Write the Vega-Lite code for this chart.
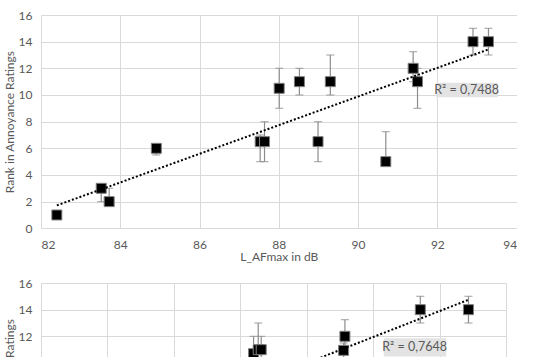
{
  "$schema": "https://vega.github.io/schema/vega-lite/v6.json",
  "padding": {"left": 3, "top": 9, "right": 0, "bottom": 0},
  "background": "white",
  "spacing": 14,
  "config": {
    "view": {"stroke": null},
    "font": "Lato",
    "axis": {
      "labelColor": "#595959", "titleColor": "#595959",
      "labelFont": "Lato", "titleFont": "Lato",
      "labelFontSize": 12, "titleFontSize": 12, "titleFontWeight": "normal",
      "gridColor": "#d9d9d9", "gridWidth": 1, "domain": false, "ticks": false,
      "labelOverlap": false
    },
    "axisY": {"labelPadding": 9, "titlePadding": 2},
    "axisX": {"labelPadding": 11, "titlePadding": 1}
  },
  "datasets": {
    "top": [
      {"x": 82.4, "y": 1, "lo": 1, "hi": 1},
      {"x": 83.52, "y": 3, "lo": 2, "hi": 3},
      {"x": 83.72, "y": 2, "lo": 2, "hi": 3},
      {"x": 84.91, "y": 6, "lo": 5.5, "hi": 6},
      {"x": 87.53, "y": 6.5, "lo": 5, "hi": 7},
      {"x": 87.64, "y": 6.5, "lo": 5, "hi": 8},
      {"x": 88.01, "y": 10.5, "lo": 9, "hi": 12},
      {"x": 88.52, "y": 11, "lo": 10, "hi": 12},
      {"x": 88.99, "y": 6.5, "lo": 5, "hi": 8},
      {"x": 89.3, "y": 11, "lo": 10, "hi": 13},
      {"x": 90.7, "y": 5, "lo": 5, "hi": 7.25},
      {"x": 91.39, "y": 12, "lo": 11, "hi": 13.25},
      {"x": 91.5, "y": 11, "lo": 9, "hi": 12},
      {"x": 92.9, "y": 14, "lo": 13, "hi": 15},
      {"x": 93.29, "y": 14, "lo": 13, "hi": 15}
    ],
    "topTrend": [
      {"x": 82.4, "y": 1.72},
      {"x": 93.3, "y": 13.43}
    ],
    "topLabel": [
      {"x": 91.97, "x2": 93.52, "y": 9.83, "y2": 10.92, "tx": 92.74, "ty": 10.37, "label": "R² = 0,7488"}
    ],
    "bottom": [
      {"x": 6.4, "y": 10.7, "lo": 10, "hi": 12},
      {"x": 6.54, "y": 11.0, "lo": 10, "hi": 13},
      {"x": 6.63, "y": 11.0, "lo": 10, "hi": 12},
      {"x": 9.15, "y": 12, "lo": 11, "hi": 13.25},
      {"x": 9.11, "y": 10.95, "lo": 10, "hi": 11.5},
      {"x": 11.42, "y": 14, "lo": 13, "hi": 15},
      {"x": 12.87, "y": 14, "lo": 13, "hi": 15}
    ],
    "bottomTrend": [
      {"x": 6.4, "y": 8.44},
      {"x": 12.87, "y": 14.74}
    ],
    "bottomLabel": [
      {"x": 10.32, "x2": 12.2, "y": 10.49, "y2": 11.85, "tx": 11.25, "ty": 11.17, "label": "R² = 0,7648"}
    ]
  },
  "vconcat": [
    {
      "width": 475.6,
      "height": 213.3,
      "layer": [
        {
          "data": {"name": "top"},
          "mark": {"type": "rule", "color": "#8c8c8c", "strokeWidth": 1.2},
          "encoding": {
            "x": {"field": "x", "type": "quantitative", "title": "L_AFmax in dB", "scale": {"domain": [82, 94], "nice": false, "zero": false}, "axis": {"values": [82, 84, 86, 88, 90, 92, 94]}},
            "y": {"field": "lo", "type": "quantitative", "title": "Rank in Annoyance Ratings", "scale": {"domain": [0, 16], "nice": false}, "axis": {"values": [0, 2, 4, 6, 8, 10, 12, 14, 16]}},
            "y2": {"field": "hi"}
          }
        },
        {
          "data": {"name": "top"},
          "mark": {"type": "tick", "orient": "horizontal", "size": 8, "thickness": 1.2, "color": "#8c8c8c"},
          "encoding": {
            "x": {"field": "x", "type": "quantitative", "title": "L_AFmax in dB", "axis": {"values": [82, 84, 86, 88, 90, 92, 94]}},
            "y": {"field": "lo", "type": "quantitative", "title": "Rank in Annoyance Ratings", "axis": {"values": [0, 2, 4, 6, 8, 10, 12, 14, 16]}}
          }
        },
        {
          "data": {"name": "top"},
          "mark": {"type": "tick", "orient": "horizontal", "size": 8, "thickness": 1.2, "color": "#8c8c8c"},
          "encoding": {
            "x": {"field": "x", "type": "quantitative", "title": "L_AFmax in dB", "axis": {"values": [82, 84, 86, 88, 90, 92, 94]}},
            "y": {"field": "hi", "type": "quantitative", "title": "Rank in Annoyance Ratings", "axis": {"values": [0, 2, 4, 6, 8, 10, 12, 14, 16]}}
          }
        },
        {
          "data": {"name": "top"},
          "mark": {"type": "point", "shape": "square", "size": 100, "filled": true, "fill": "#000000", "stroke": "#7f7f7f", "strokeWidth": 1, "opacity": 1},
          "encoding": {
            "x": {"field": "x", "type": "quantitative", "title": "L_AFmax in dB", "axis": {"values": [82, 84, 86, 88, 90, 92, 94]}},
            "y": {"field": "y", "type": "quantitative", "title": "Rank in Annoyance Ratings", "axis": {"values": [0, 2, 4, 6, 8, 10, 12, 14, 16]}}
          }
        },
        {
          "data": {"name": "topTrend"},
          "mark": {"type": "line", "color": "#000000", "strokeWidth": 2, "strokeDash": [2, 2]},
          "encoding": {
            "x": {"field": "x", "type": "quantitative", "title": "L_AFmax in dB", "axis": {"values": [82, 84, 86, 88, 90, 92, 94]}},
            "y": {"field": "y", "type": "quantitative", "title": "Rank in Annoyance Ratings", "axis": {"values": [0, 2, 4, 6, 8, 10, 12, 14, 16]}}
          }
        },
        {
          "data": {"name": "topLabel"},
          "mark": {"type": "rect", "color": "#e3e3e3"},
          "encoding": {
            "x": {"field": "x", "type": "quantitative", "title": "L_AFmax in dB", "axis": {"values": [82, 84, 86, 88, 90, 92, 94]}},
            "x2": {"field": "x2"},
            "y": {"field": "y", "type": "quantitative", "title": "Rank in Annoyance Ratings", "axis": {"values": [0, 2, 4, 6, 8, 10, 12, 14, 16]}},
            "y2": {"field": "y2"}
          }
        },
        {
          "data": {"name": "topLabel"},
          "mark": {"type": "text", "color": "#595959", "font": "Lato", "fontSize": 12.5},
          "encoding": {
            "x": {"field": "tx", "type": "quantitative", "title": "L_AFmax in dB", "axis": {"values": [82, 84, 86, 88, 90, 92, 94]}},
            "y": {"field": "ty", "type": "quantitative", "title": "Rank in Annoyance Ratings", "axis": {"values": [0, 2, 4, 6, 8, 10, 12, 14, 16]}},
            "text": {"field": "label"}
          }
        }
      ]
    },
    {
      "width": 465,
      "height": 213.3,
      "layer": [
        {
          "data": {"name": "bottom"},
          "mark": {"type": "rule", "color": "#8c8c8c", "strokeWidth": 1.2},
          "encoding": {
            "x": {"field": "x", "type": "quantitative", "title": null, "scale": {"domain": [0, 14], "nice": false}, "axis": {"values": [0, 2, 4, 6, 8, 10, 12, 14], "labels": false}},
            "y": {"field": "lo", "type": "quantitative", "title": "Rank in Annoyance Ratings", "scale": {"domain": [0, 16], "nice": false}, "axis": {"values": [0, 2, 4, 6, 8, 10, 12, 14, 16]}},
            "y2": {"field": "hi"}
          }
        },
        {
          "data": {"name": "bottom"},
          "mark": {"type": "tick", "orient": "horizontal", "size": 8, "thickness": 1.2, "color": "#8c8c8c"},
          "encoding": {
            "x": {"field": "x", "type": "quantitative", "title": null, "axis": {"values": [0, 2, 4, 6, 8, 10, 12, 14], "labels": false}},
            "y": {"field": "lo", "type": "quantitative", "title": "Rank in Annoyance Ratings", "axis": {"values": [0, 2, 4, 6, 8, 10, 12, 14, 16]}}
          }
        },
        {
          "data": {"name": "bottom"},
          "mark": {"type": "tick", "orient": "horizontal", "size": 8, "thickness": 1.2, "color": "#8c8c8c"},
          "encoding": {
            "x": {"field": "x", "type": "quantitative", "title": null, "axis": {"values": [0, 2, 4, 6, 8, 10, 12, 14], "labels": false}},
            "y": {"field": "hi", "type": "quantitative", "title": "Rank in Annoyance Ratings", "axis": {"values": [0, 2, 4, 6, 8, 10, 12, 14, 16]}}
          }
        },
        {
          "data": {"name": "bottom"},
          "mark": {"type": "point", "shape": "square", "size": 100, "filled": true, "fill": "#000000", "stroke": "#7f7f7f", "strokeWidth": 1, "opacity": 1},
          "encoding": {
            "x": {"field": "x", "type": "quantitative", "title": null, "axis": {"values": [0, 2, 4, 6, 8, 10, 12, 14], "labels": false}},
            "y": {"field": "y", "type": "quantitative", "title": "Rank in Annoyance Ratings", "axis": {"values": [0, 2, 4, 6, 8, 10, 12, 14, 16]}}
          }
        },
        {
          "data": {"name": "bottomTrend"},
          "mark": {"type": "line", "color": "#000000", "strokeWidth": 2, "strokeDash": [2, 2]},
          "encoding": {
            "x": {"field": "x", "type": "quantitative", "title": null, "axis": {"values": [0, 2, 4, 6, 8, 10, 12, 14], "labels": false}},
            "y": {"field": "y", "type": "quantitative", "title": "Rank in Annoyance Ratings", "axis": {"values": [0, 2, 4, 6, 8, 10, 12, 14, 16]}}
          }
        },
        {
          "data": {"name": "bottomLabel"},
          "mark": {"type": "rect", "color": "#e3e3e3"},
          "encoding": {
            "x": {"field": "x", "type": "quantitative", "title": null, "axis": {"values": [0, 2, 4, 6, 8, 10, 12, 14], "labels": false}},
            "x2": {"field": "x2"},
            "y": {"field": "y", "type": "quantitative", "title": "Rank in Annoyance Ratings", "axis": {"values": [0, 2, 4, 6, 8, 10, 12, 14, 16]}},
            "y2": {"field": "y2"}
          }
        },
        {
          "data": {"name": "bottomLabel"},
          "mark": {"type": "text", "color": "#595959", "font": "Lato", "fontSize": 12.5},
          "encoding": {
            "x": {"field": "tx", "type": "quantitative", "title": null, "axis": {"values": [0, 2, 4, 6, 8, 10, 12, 14], "labels": false}},
            "y": {"field": "ty", "type": "quantitative", "title": "Rank in Annoyance Ratings", "axis": {"values": [0, 2, 4, 6, 8, 10, 12, 14, 16]}},
            "text": {"field": "label"}
          }
        }
      ]
    }
  ]
}
